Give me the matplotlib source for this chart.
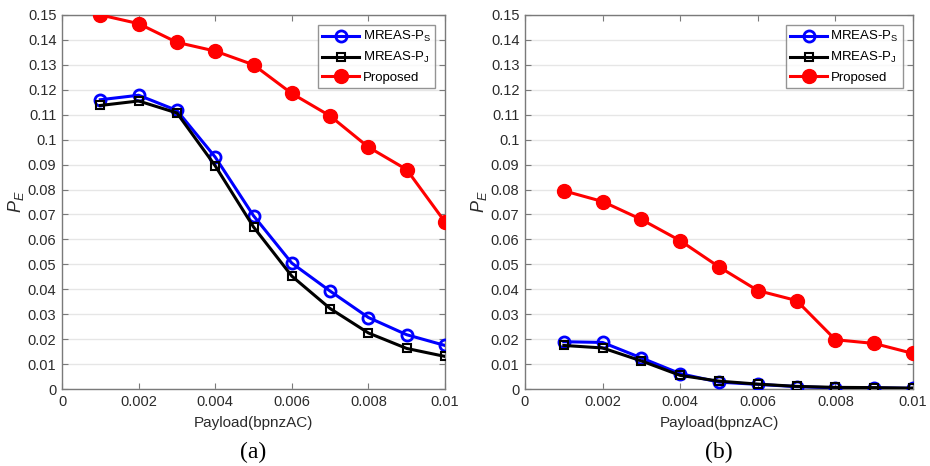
import matplotlib
matplotlib.use("Agg")
import matplotlib.pyplot as plt

plt.rcParams['font.family'] = ['Liberation Sans', 'DejaVu Sans']
plt.rcParams['mathtext.fontset'] = 'custom'
plt.rcParams['mathtext.rm'] = 'Liberation Sans'
plt.rcParams['mathtext.it'] = 'Liberation Sans:italic'

payload = [0.001, 0.002, 0.003, 0.004, 0.005, 0.006, 0.007, 0.008, 0.009, 0.010]

# panel (a)
a_ps = [0.116, 0.1178, 0.1117, 0.093, 0.0695, 0.0505, 0.0393, 0.0287, 0.0218, 0.0175]
a_pj = [0.1137, 0.1155, 0.1107, 0.0895, 0.065, 0.0453, 0.0323, 0.0225, 0.0163, 0.0131]
a_prop = [0.150, 0.1465, 0.139, 0.1355, 0.130, 0.1185, 0.1095, 0.097, 0.088, 0.067]

# panel (b)
b_ps = [0.019, 0.0187, 0.0125, 0.0062, 0.0028, 0.0019, 0.0010, 0.0005, 0.0005, 0.0003]
b_pj = [0.0175, 0.0165, 0.0113, 0.0055, 0.0032, 0.0020, 0.0011, 0.0007, 0.0006, 0.0004]
b_prop = [0.0795, 0.0752, 0.068, 0.0595, 0.049, 0.0395, 0.0355, 0.0198, 0.0183, 0.0143]

series_labels = ['MREAS-P$_\\mathrm{S}$', 'MREAS-P$_\\mathrm{J}$', 'Proposed']
x_ticks = [0, 0.002, 0.004, 0.006, 0.008, 0.01]
x_tick_labels = ['0', '0.002', '0.004', '0.006', '0.008', '0.01']
y_ticks = [i / 100 for i in range(16)]
y_tick_labels = ['0'] + ['%g' % (i / 100) for i in range(1, 16)]
panel_names = ['(a)', '(b)']

fig = plt.figure(figsize=(9.3, 4.66), dpi=100)
ax_a = fig.add_axes([0.0667, 0.165, 0.4118, 0.803])
ax_b = fig.add_axes([0.5645, 0.165, 0.4172, 0.803])

axis_gray = '#7a7a7a'
text_gray = '#2b2b2b'

for ax, ps, pj, prop, name in [(ax_a, a_ps, a_pj, a_prop, panel_names[0]),
                               (ax_b, b_ps, b_pj, b_prop, panel_names[1])]:
    ax.plot(payload, ps, color='#0000ff', lw=2.2, marker='o', ms=8,
            mfc='none', mec='#0000ff', mew=2.0, label=series_labels[0], zorder=3)
    ax.plot(payload, pj, color='black', lw=2.2, marker='s', ms=6,
            mfc='none', mec='black', mew=1.5, label=series_labels[1], zorder=4)
    ax.plot(payload, prop, color='#ff0000', lw=2.2, marker='o', ms=10,
            mfc='#ff0000', mec='#ff0000', label=series_labels[2], zorder=5)

    ax.set_xlim(0, 0.01)
    ax.set_ylim(0, 0.15)
    ax.set_xticks(x_ticks)
    ax.set_xticklabels(x_tick_labels)
    ax.set_yticks(y_ticks)
    ax.set_yticklabels(y_tick_labels)
    ax.yaxis.grid(True, color='#e6e6e6', lw=1.0)
    ax.set_axisbelow(True)
    ax.tick_params(direction='in', top=True, right=True, length=4,
                   color=axis_gray, labelcolor=text_gray, labelsize=10.5, pad=4)
    for sp in ax.spines.values():
        sp.set_color(axis_gray)
        sp.set_linewidth(1.0)
    ax.set_xlabel('Payload(bpnzAC)', fontsize=11, color=text_gray, labelpad=5)
    ax.set_ylabel('$P_E$', fontsize=13, color=text_gray, labelpad=1)
    leg = ax.legend(loc='upper right', bbox_to_anchor=(0.975, 0.974), fontsize=9.5,
                    borderaxespad=0, frameon=True, fancybox=False, handlelength=2.8,
                    borderpad=0.35, labelspacing=0.45, handletextpad=0.25)
    leg.get_frame().set_edgecolor(axis_gray)
    leg.get_frame().set_linewidth(1.0)
    ax.text(0.5, -0.14, name, transform=ax.transAxes, ha='center', va='top',
            fontsize=17, family='Liberation Serif', color='black')

fig.savefig('out.png', dpi=100)
